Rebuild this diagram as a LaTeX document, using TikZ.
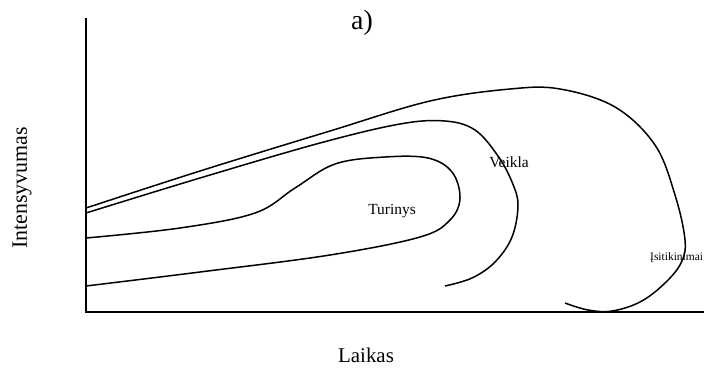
\documentclass[tikz,border=0pt]{standalone}
\usepackage{fontspec}
\setmainfont{Liberation Serif}
\newcommand{\fs}[1]{\fontsize{#1}{#1}\selectfont}

\begin{document}
\begin{tikzpicture}[x=1bp,y=-1bp]
\useasboundingbox (0,0) rectangle (704,367);
\tikzset{curve/.style={line width=1.5bp,smooth,tension=0.6},
  tag/.style={inner sep=0pt,font=\fs{15.5}}}
\coordinate (ytop) at (86,18);
\coordinate (o) at (86,312);
\coordinate (xend) at (704,312);
\draw[line width=1.2bp] (ytop)--(o)--(xend);
% Turinys
\draw[curve] plot coordinates {(86,238) (180,228) (255,213) (295,188) (335,164) (385,157) (428,158) (452,172) (460,198) (450,220) (420,237) (330,255) (200,272) (86,286)};
% Veikla
\draw[curve] plot coordinates {(86,213) (200,178) (320,143) (400,124) (445,121) (475,130) (498,156) (512,182) (518,205) (512,237) (495,262) (472,278) (445,286)};
% Isitikinimai
\draw[curve] plot coordinates {(86,208) (200,171) (330,131) (430,101) (510,89) (560,89) (615,107) (655,145) (675,195) (685,240) (681,263) (664,284) (640,302) (612,311) (588,310) (565,303)};
\node[tag] (tur) at (392,211) {Turinys};
\node[tag] (vei) at (509,162) {Veikla};
\node[tag,font=\fs{11.5},anchor=west] (isi) at (650,258) {Įsitikinimai};
\node[inner sep=0pt,font=\fs{28}] (ttl) at (362,23) {a)};
\node[inner sep=0pt,font=\fs{21}] (xlab) at (366,355) {Laikas};
\node[inner sep=0pt,font=\fs{22},rotate=90] (ylab) at (22,188) {Intensyvumas};
\end{tikzpicture}
\end{document}
